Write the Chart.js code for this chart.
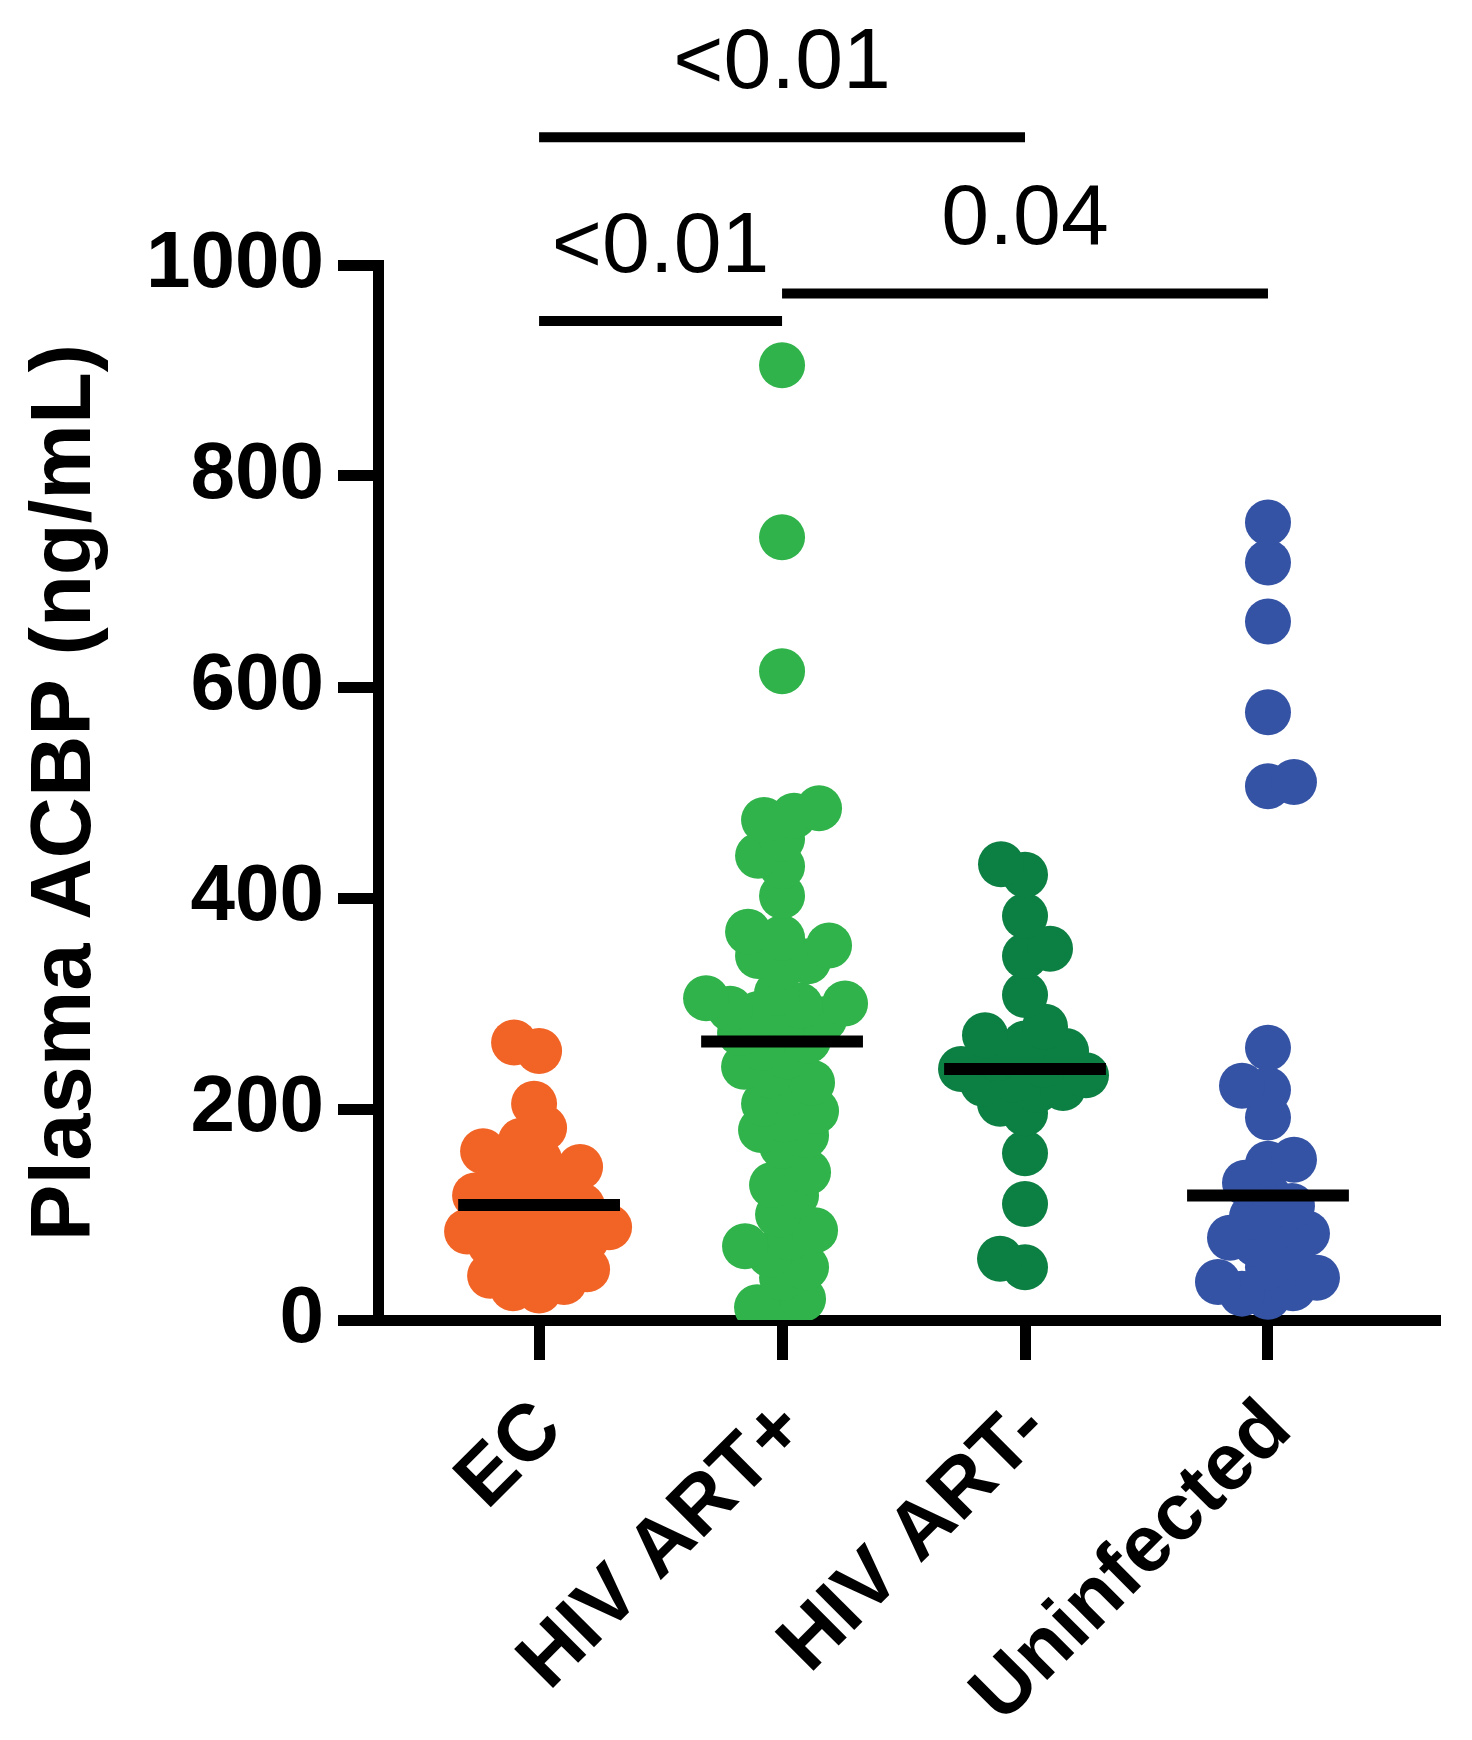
<!DOCTYPE html>
<html>
<head>
<meta charset="utf-8">
<script src="https://cdn.jsdelivr.net/npm/chart.js@4.4.1/dist/chart.umd.min.js"></script>
<style>
  html, body { margin: 0; padding: 0; background: #fff; }
  #wrap { width: 1472px; height: 1740px; }
</style>
</head>
<body>
<div id="wrap"><canvas id="chart" width="1472" height="1740"></canvas></div>
<script>
// groups and colours
const groups = ['EC', 'HIV ART+', 'HIV ART-', 'Uninfected'];
const groupColors = ['#F26426', '#2FB34A', '#0C7F43', '#3553A5'];

// plasma ACBP (ng/mL)
const ecValues = [263, 255, 205, 182, 170, 160, 152, 145, 140, 133, 125, 118, 112, 108, 102,
  98, 92, 88, 84, 80, 76, 72, 68, 62, 55, 48, 42, 36, 30, 28];
const artPlusValues = [905, 742, 615, 485, 478, 474, 456, 440, 430, 402, 368, 362, 355, 345, 340,
  335, 310, 305, 300, 298, 295, 290, 285, 280, 272, 265, 258, 250, 240, 232, 225, 215, 205, 198,
  190, 180, 175, 165, 140, 128, 118, 100, 85, 78, 70, 62, 50, 40, 20, 12, 5];
const artMinusValues = [432, 422, 383, 352, 345, 308, 278, 270, 262, 255, 248, 242, 238, 232, 228,
  224, 220, 218, 205, 196, 158, 110, 58, 50];
const uninfValues = [756, 718, 662, 576, 510, 506, 258, 222, 218, 192, 152, 148, 130, 118, 108,
  98, 88, 82, 78, 72, 62, 50, 40, 36, 30, 25, 22];

// centre lines (median) per group
const groupMedians = [109, 264, 238, 118];

// y ticks
const yTicks = [0, 200, 400, 600, 800, 1000];

// comparisons
const sigLabels = ['<0.01', '<0.01', '0.04'];
const sigFrom = [1, 1, 2];
const sigTo = [3, 2, 4];
const sigLevel = [1121, 947, 973];

const allValues = [ecValues, artPlusValues, artMinusValues, uninfValues];

// simple beeswarm, spreads the dots sideways so they don't pile up
const PX_PER_X = 243;
const PX_PER_Y = 1.055;
const MIN_GAP = 26;
const swarm = (values, center) => {
  const placed = [];
  [...values].sort((a, b) => a - b).forEach((v, n) => {
    const py = v * PX_PER_Y;
    let best = 0;
    for (let step = 0; step < 400; step++) {
      const sign = n % 2 ? -1 : 1;
      const cands = step === 0 ? [0] : [sign * step, -sign * step];
      const ok = cands.find((dx) => placed.every((p) => Math.hypot(p.dx - dx, p.py - py) >= MIN_GAP));
      if (ok !== undefined) {
        best = ok;
        break;
      }
    }
    placed.push({ dx: best, py });
  });
  return placed.map((p) => ({ x: center + p.dx / PX_PER_X, y: p.py / PX_PER_Y }));
};

const datasets = [];

groupMedians.forEach((m, i) => {
  datasets.push({
    type: 'line',
    data: [{ x: i + 1 - 0.333, y: m }, { x: i + 1 + 0.333, y: m }],
    borderColor: '#000',
    borderWidth: 12,
    pointRadius: 0,
    order: 0,
  });
});

allValues.forEach((vals, i) => {
  datasets.push({
    type: 'scatter',
    data: swarm(vals, i + 1),
    backgroundColor: groupColors[i],
    borderWidth: 0,
    pointRadius: 23,
    pointHoverRadius: 23,
    order: 1,
  });
});

sigLabels.forEach((t, i) => {
  datasets.push({
    type: 'line',
    data: [{ x: sigFrom[i], y: sigLevel[i] }, { x: sigTo[i], y: sigLevel[i] }],
    borderColor: '#000',
    borderWidth: 10,
    pointRadius: 0,
    clip: false,
    order: 0,
  });
});

const sigText = {
  id: 'sigText',
  afterDatasetsDraw(chart) {
    const { ctx, scales: { x, y } } = chart;
    ctx.save();
    ctx.font = '86px "Liberation Sans", Arial, sans-serif';
    ctx.fillStyle = '#000';
    ctx.textAlign = 'center';
    ctx.textBaseline = 'alphabetic';
    sigLabels.forEach((t, i) => {
      const px = x.getPixelForValue((sigFrom[i] + sigTo[i]) / 2);
      const py = y.getPixelForValue(sigLevel[i]) - 49;
      ctx.fillText(t, px, py);
    });
    ctx.restore();
  },
};

const tickFont = { family: '"Liberation Sans", Arial, sans-serif', weight: 'bold', size: 80 };

new Chart(document.getElementById('chart'), {
  type: 'scatter',
  data: { datasets },
  plugins: [sigText],
  options: {
    responsive: false,
    animation: false,
    devicePixelRatio: 1,
    layout: { padding: { top: 265, right: 32, left: 0, bottom: 0 } },
    plugins: { legend: { display: false }, tooltip: { enabled: false } },
    scales: {
      x: {
        type: 'linear',
        min: 0.337,
        max: 4.708,
        afterBuildTicks: (scale) => {
          scale.ticks = groups.map((g, i) => ({ value: i + 1 }));
        },
        afterFit: (scale) => {
          scale.height = 420;
        },
        ticks: {
          autoSkip: false,
          minRotation: 45,
          maxRotation: 45,
          padding: 23,
          labelOffset: 11,
          color: '#000',
          font: tickFont,
          callback: (v) => groups[Math.round(v) - 1],
        },
        grid: { drawOnChartArea: false, tickLength: 40, tickWidth: 11, tickColor: '#000' },
        border: { display: true, width: 11, color: '#000' },
      },
      y: {
        min: 0,
        max: 1000,
        afterBuildTicks: (scale) => {
          scale.ticks = yTicks.map((v) => ({ value: v }));
        },
        afterFit: (scale) => {
          scale.width = 378;
        },
        ticks: { padding: 14, color: '#000', font: tickFont, callback: (v) => String(v) },
        grid: { drawOnChartArea: false, tickLength: 40, tickWidth: 11, tickColor: '#000' },
        border: { display: true, width: 11, color: '#000' },
        title: {
          display: true,
          text: 'Plasma ACBP (ng/mL)',
          color: '#000',
          font: { family: '"Liberation Sans", Arial, sans-serif', weight: 'bold', size: 85 },
          padding: { top: 16, bottom: 0 },
        },
      },
    },
  },
});
</script>
</body>
</html>
